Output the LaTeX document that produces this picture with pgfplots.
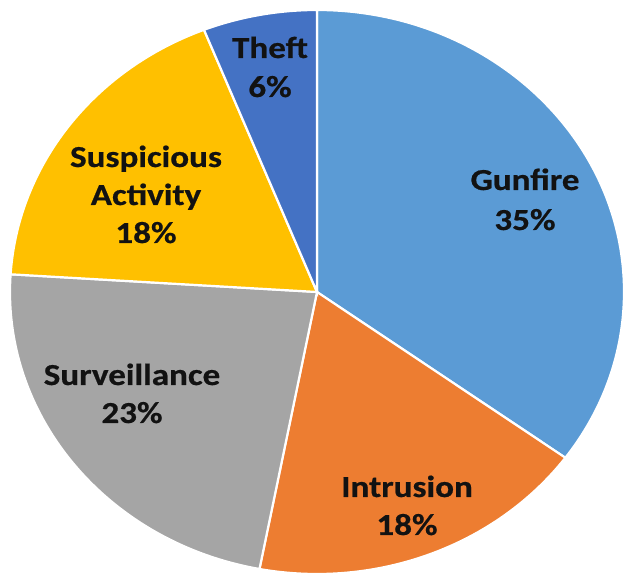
\documentclass[border=0pt]{standalone}
\usepackage{pgfplots}
\pgfplotsset{compat=1.18}
\usepackage{fontspec}
\setmainfont{Carlito}[FakeStretch=1.15, FakeBold=0.6]
\definecolor{gunfire}{HTML}{5B9BD5}
\definecolor{intrusion}{HTML}{ED7D31}
\definecolor{surv}{HTML}{A5A5A5}
\definecolor{susp}{HTML}{FFC000}
\definecolor{theft}{HTML}{4472C4}
\definecolor{lbl}{HTML}{121212}
\begin{document}
\begin{tikzpicture}
\begin{axis}[scale only axis, width=625pt, height=574pt,
  xmin=0, xmax=625, ymin=0, ymax=574, hide axis]
\fill[white] (axis cs:0,0) rectangle (axis cs:625,574);
% slices: Gunfire 35, Intrusion 18, Surveillance 23, Suspicious Activity 18, Theft 6 (percent)
\filldraw[fill=gunfire, draw=white, line width=2.2pt] (axis cs:317,282) -- ++(90:307pt and 282pt)
  arc[start angle=90, end angle={90-3.6*35}, x radius=307pt, y radius=282pt] -- cycle;
\filldraw[fill=intrusion, draw=white, line width=2.2pt] (axis cs:317,282) -- ++({90-3.6*35}:307pt and 282pt)
  arc[start angle={90-3.6*35}, end angle={90-3.6*(35+18)}, x radius=307pt, y radius=282pt] -- cycle;
\filldraw[fill=surv, draw=white, line width=2.2pt] (axis cs:317,282) -- ++({90-3.6*53}:307pt and 282pt)
  arc[start angle={90-3.6*53}, end angle={90-3.6*(53+23)}, x radius=307pt, y radius=282pt] -- cycle;
\filldraw[fill=susp, draw=white, line width=2.2pt] (axis cs:317,282) -- ++({90-3.6*76}:307pt and 282pt)
  arc[start angle={90-3.6*76}, end angle={90-3.6*(76+18)}, x radius=307pt, y radius=282pt] -- cycle;
\filldraw[fill=theft, draw=white, line width=2.2pt] (axis cs:317,282) -- ++({90-3.6*94}:307pt and 282pt)
  arc[start angle={90-3.6*94}, end angle={90-3.6*(94+6)}, x radius=307pt, y radius=282pt] -- cycle;
% labels
\begin{scope}[every node/.style={anchor=base, text=lbl, font=\bfseries\fontsize{30.5}{38}\selectfont, inner sep=0pt}]
\node at (axis cs:525,384) {Gunfire};
\node at (axis cs:525,344) {35\%};
\node at (axis cs:407,77) {Intrusion};
\node at (axis cs:407,39) {18\%};
\node at (axis cs:132,189) {Surveillance};
\node at (axis cs:132,151) {23\%};
\node at (axis cs:146,407) {Suspicious};
\node at (axis cs:146,369) {Activity};
\node at (axis cs:146,331) {18\%};
\node at (axis cs:270,516) {Theft};
\node at (axis cs:270,477) {6\%};
\end{scope}
\end{axis}
\end{tikzpicture}
\end{document}
